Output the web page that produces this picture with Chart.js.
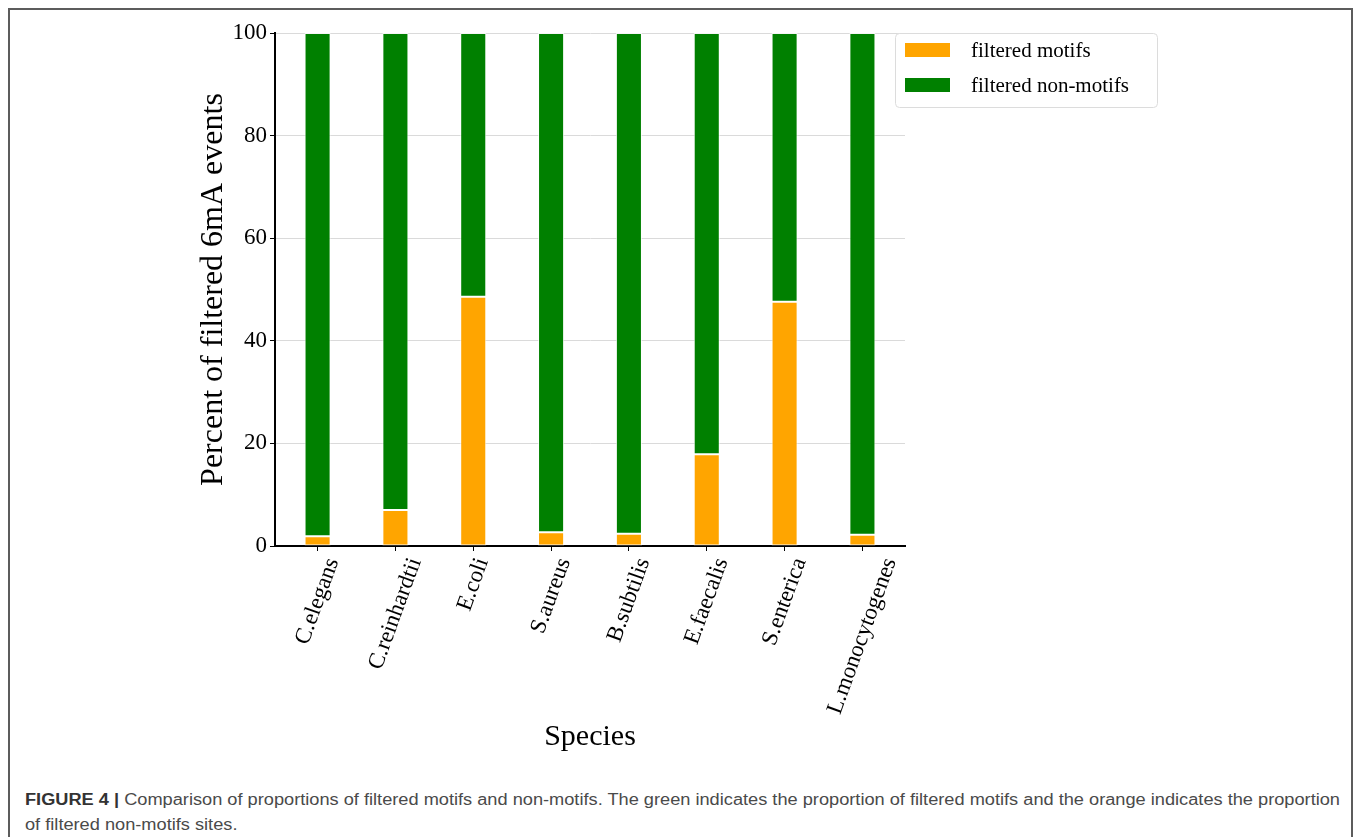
<!DOCTYPE html>
<html>
<head>
<meta charset="utf-8">
<script src="https://cdn.jsdelivr.net/npm/chart.js@4.4.1/dist/chart.umd.min.js"></script>
<style>
  html, body { margin: 0; padding: 0; background: #fff; overflow: hidden; }
  body { width: 1358px; height: 837px; position: relative; }
  #frame {
    position: absolute; left: 8px; top: 8px; width: 1345px; height: 860px;
    border: 2px solid #5c5c5c; box-sizing: border-box;
  }
  #wrap { position: absolute; left: 0; top: 0; width: 1358px; height: 770px; }
  .cap {
    position: absolute; left: 25px; white-space: nowrap;
    font-family: "Liberation Sans", Arial, sans-serif; font-size: 16px; color: #4a4a4a;
    transform-origin: 0 0;
  }
  .cap b { color: #333; }
</style>
</head>
<body>
<div id="frame"></div>
<div id="wrap"><canvas id="c" width="1358" height="770"></canvas></div>
<div class="cap" id="cap1" style="top:791px"><b>FIGURE 4 |</b> Comparison of proportions of filtered motifs and non-motifs. The green indicates the proportion of filtered motifs and the orange indicates the proportion</div>
<div class="cap" id="cap2" style="top:816px">of filtered non-motifs sites.</div>
<script>
// Species on the x axis
const species = ['C.elegans', 'C.reinhardtii', 'E.coli', 'S.aureus', 'B.subtilis', 'E.faecalis', 'S.enterica', 'L.monocytogenes'];
// Percent of filtered 6mA events falling in motifs / outside motifs
const filteredMotifs = [1.9, 7.0, 48.6, 2.7, 2.4, 17.9, 47.6, 2.2];
const filteredNonMotifs = [98.1, 93.0, 51.4, 97.3, 97.6, 82.1, 52.4, 97.8];
// y tick values
const yTicks = [0, 20, 40, 60, 80, 100];

const serif = '"Liberation Serif", "Times New Roman", serif';
const ROT = 70 * Math.PI / 180;

// Rotated species names, each centred horizontally on its tick
const xLabels = {
  id: 'xLabels',
  afterDraw(chart) {
    const ctx = chart.ctx, sx = chart.scales.x;
    const size = 23;
    ctx.save();
    ctx.font = size + 'px ' + serif;
    ctx.fillStyle = '#000';
    ctx.textAlign = 'center';
    ctx.textBaseline = 'middle';
    const top = sx.top + 9;
    chart.data.labels.forEach((lab, i) => {
      const w = ctx.measureText(lab).width;
      const h = size;
      const bh = w * Math.sin(ROT) + h * Math.cos(ROT);
      const x = sx.getPixelForTick(i);
      ctx.save();
      ctx.translate(x, top + bh / 2);
      ctx.rotate(-ROT);
      ctx.fillText(lab, 0, 0);
      ctx.restore();
    });
    ctx.restore();
  }
};

// Framed legend beside the plot
const boxLegend = {
  id: 'boxLegend',
  afterDraw(chart) {
    const ctx = chart.ctx;
    const x0 = chart.chartArea.right - 10, y0 = chart.chartArea.top;
    const bw = 262, bh = 74;
    ctx.save();
    ctx.fillStyle = 'rgba(255,255,255,0.85)';
    ctx.strokeStyle = '#dcdcdc';
    ctx.lineWidth = 1;
    ctx.beginPath();
    ctx.roundRect(x0 + 0.5, y0 + 0.5, bw, bh, 4);
    ctx.fill();
    ctx.stroke();
    ctx.font = '21px ' + serif;
    ctx.textBaseline = 'middle';
    chart.data.datasets.forEach((ds, i) => {
      const cy = y0 + 17 + i * 35;
      ctx.fillStyle = ds.backgroundColor;
      ctx.fillRect(x0 + 10, cy - 7, 45, 14);
      ctx.fillStyle = '#000';
      ctx.fillText(ds.label, x0 + 76, cy + 1);
    });
    ctx.restore();
  }
};

new Chart(document.getElementById('c'), {
  type: 'bar',
  data: {
    labels: species,
    datasets: [
      {
        label: 'filtered motifs', data: filteredMotifs,
        backgroundColor: '#FFA500', borderColor: 'rgba(255,255,255,0.75)',
        borderWidth: 1, borderSkipped: false,
        categoryPercentage: 1, barPercentage: 0.335
      },
      {
        label: 'filtered non-motifs', data: filteredNonMotifs,
        backgroundColor: '#008000', borderColor: 'rgba(255,255,255,0.75)',
        borderWidth: 1, borderSkipped: false,
        categoryPercentage: 1, barPercentage: 0.335
      }
    ]
  },
  options: {
    responsive: false,
    animation: false,
    layout: { padding: { left: 194, top: 33, right: 453, bottom: 15 } },
    plugins: { legend: { display: false }, tooltip: { enabled: false } },
    scales: {
      x: {
        stacked: true,
        offset: true,
        // a little extra margin on both sides of the category range
        afterBuildTicks(s) {
          const n = s.getLabels().length;
          s._startValue = -0.547;
          s._valueRange = n - 1 + 2 * 0.547;
        },
        grid: { offset: false, drawOnChartArea: false, drawTicks: true, tickLength: 5, tickColor: '#000', tickWidth: 1 },
        border: { display: true, color: '#000', width: 2 },
        ticks: { display: false },
        title: { display: true, text: 'Species', color: '#000', padding: 0, font: { family: serif, size: 30 } },
        afterFit(s) { s.height = 209; }
      },
      y: {
        stacked: true,
        min: 0, max: 100,
        afterBuildTicks(s) { s.ticks = yTicks.map(v => ({ value: v })); },
        grid: { color: '#dadada', lineWidth: 1, drawTicks: true, tickLength: 5, tickColor: '#000' },
        border: { display: true, color: '#000', width: 2 },
        ticks: { color: '#000', padding: 3, font: { family: serif, size: 23 } },
        title: { display: true, text: 'Percent of filtered 6mA events', color: '#000', padding: 0, font: { family: serif, size: 32 } },
        afterFit(s) { s.width = 81; }
      }
    }
  },
  plugins: [xLabels, boxLegend]
});

// Keep caption lines at the figure's text width
(function () {
  const c1 = document.getElementById('cap1');
  const c2 = document.getElementById('cap2');
  const k = 1315 / c1.getBoundingClientRect().width;
  c1.style.transform = 'scaleX(' + k + ')';
  c2.style.transform = 'scaleX(' + k + ')';
})();
</script>
</body>
</html>
